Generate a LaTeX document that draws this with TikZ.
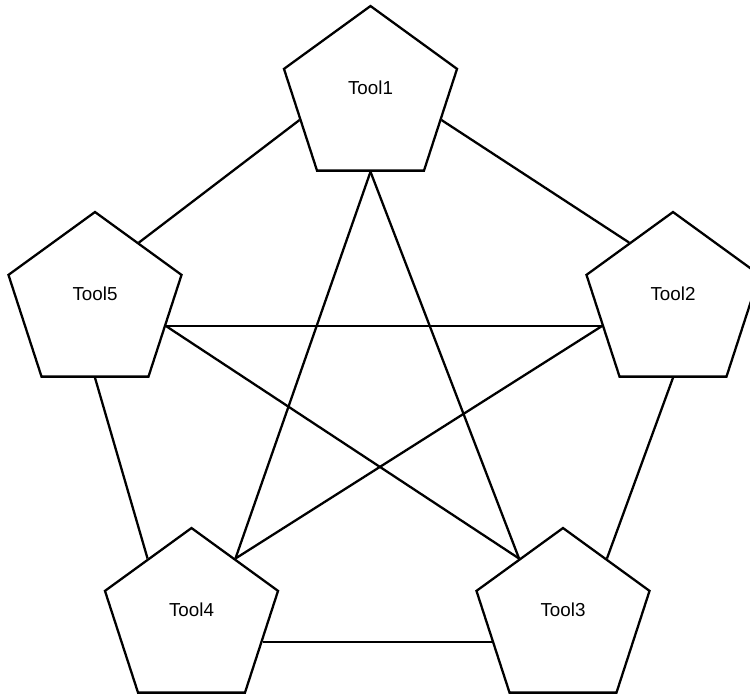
\documentclass[tikz,border=0pt]{standalone}
\usepackage{fontspec}
\setmainfont{Liberation Sans}
\usetikzlibrary{shapes.geometric}

\begin{document}
\begin{tikzpicture}[x=0.02cm, y=-0.02cm,
  tool/.style={regular polygon, regular polygon sides=5, draw=black, line width=1.3pt,
    minimum size=3.64cm, inner sep=0pt, font=\fontsize{10.7}{12}\selectfont,
    text height=0.27cm, text depth=0.38cm},
  link/.style={draw=black, line width=1.3pt}]
\useasboundingbox (0,0) rectangle (750,693);
\clip (0,0) rectangle (750,693);
\node[tool] (t1) at (370.5,97) {Tool1};
\node[tool] (t2) at (673,303) {Tool2};
\node[tool] (t3) at (563,619) {Tool3};
\node[tool] (t4) at (191.5,619) {Tool4};
\node[tool] (t5) at (95,303) {Tool5};
% outer ring
\draw[link] (t1.side 4) -- (t2.side 1);
\draw[link] (t2.side 3) -- (t3.side 5);
\draw[link] (t3.side 2) -- (t4.side 4);
\draw[link] (t4.side 1) -- (t5.side 3);
\draw[link] (t5.side 5) -- (t1.side 2);
% star
\draw[link] (t1.side 3) -- (t4.side 5);
\draw[link] (t1.side 3) -- (t3.side 1);
\draw[link] (t5.side 4) -- (t2.side 2);
\draw[link] (t5.side 4) -- (t3.side 1);
\draw[link] (t2.side 2) -- (t4.side 5);
\end{tikzpicture}
\end{document}
